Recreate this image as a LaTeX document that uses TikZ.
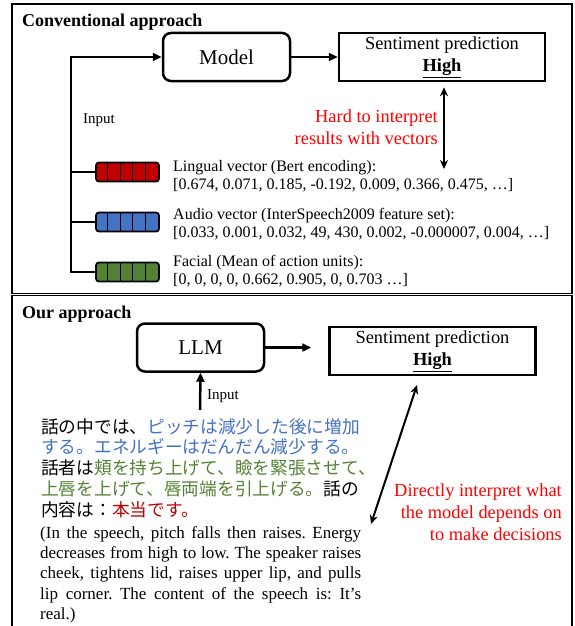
\documentclass[tikz,border=0pt]{standalone}
\usepackage{fontspec}
\setmainfont{Liberation Serif}
\newfontfamily\jpfont{Noto Sans CJK JP}
\usetikzlibrary{arrows.meta,calc}
\definecolor{vred}{RGB}{192,0,0}
\definecolor{vblue}{RGB}{68,114,196}
\definecolor{vgreen}{RGB}{84,130,53}
\frenchspacing

\begin{document}
\begin{tikzpicture}[x=1pt,y=-1pt,
  frame/.style={line width=1.5pt},
  modelbox/.style={draw, line width=2.5pt, rounded corners=8pt, minimum width=127pt, minimum height=48pt, font=\fontsize{21}{25}\selectfont},
  predbox/.style={draw, line width=2.5pt, minimum width=206pt, minimum height=48pt, align=center, inner sep=0pt, font=\fontsize{18.4}{22}\selectfont},
  conn/.style={line width=2.5pt},
  arrow/.style={line width=2.5pt, -{Triangle[length=9pt,width=8pt]}},
  dblarrow/.style={line width=2pt, {Stealth[length=9pt,width=8pt]}-{Stealth[length=9pt,width=8pt]}},
  bar/.style={draw, line width=1.8pt, rounded corners=3pt, minimum width=63pt, minimum height=19pt, inner sep=0pt},
  vectxt/.style={anchor=west, align=left, inner sep=0pt, font=\fontsize{16}{18}\selectfont},
  redtxt/.style={red, anchor=east, align=right, inner sep=0pt, font=\fontsize{18.4}{22}\selectfont},
  title/.style={anchor=west, inner sep=0pt, font=\fontsize{18}{22}\selectfont\bfseries},
  inlabel/.style={anchor=west, inner sep=0pt, font=\fontsize{15}{18}\selectfont}]
\useasboundingbox (0,0) rectangle (574,626);
%
\draw [frame] (12,4) rectangle (572,293.5);
\draw [frame] (12,295.5) rectangle (572,640);
%%%%%%%%%%%%%%% conventional
\node [title] (convtitle) at (22,22) {Conventional approach};
\node [modelbox] (model) at (226.5,57) {Model};
\node [predbox] (sent1) at (442,57) {Sentiment prediction\\\textbf{\underline{High}}};
\draw [arrow, line width=2pt] (model.east) -- (sent1.west);
%
\foreach \nm/\col/\yy in {lingbar/vred/172, audiobar/vblue/222, facebar/vgreen/272} {
  \node [bar, fill=\col] (\nm) at (127.5,\yy) {};
  \foreach \k in {1,...,4}
    \draw [line width=1pt] ($(\nm.north west)+(\k*12.6,0)$) -- ($(\nm.south west)+(\k*12.6,0)$);
}
\coordinate (trunk) at (71,272);
\draw [arrow] (facebar.west) -- (trunk) |- (model.west);
\draw [conn] (trunk |- lingbar.west) -- (lingbar.west);
\draw [conn] (trunk |- audiobar.west) -- (audiobar.west);
\node [inlabel] (input1) at (83,120) {Input};
%
\node [vectxt] (lingtxt) at (173,176) {Lingual vector (Bert encoding):\\{}[0.674, 0.071, 0.185, -0.192, 0.009, 0.366, 0.475, …]};
\node [vectxt] (audiotxt) at (173,224) {Audio vector (InterSpeech2009 feature set):\\{}[0.033, 0.001, 0.032, 49, 430, 0.002, -0.000007, 0.004, …]};
\node [vectxt] (facetxt) at (173,271) {Facial (Mean of action units):\\{}[0, 0, 0, 0, 0.662, 0.905, 0, 0.703 …]};
%
\node [redtxt] (hardtxt) at (438,127) {Hard to interpret\\results with vectors};
\coordinate (hardbot) at (444,169);
\draw [dblarrow, shorten <=5pt] (sent1.south -| hardbot) -- (hardbot);
%%%%%%%%%%%%%%% ours
\node [title] (ourtitle) at (22,314) {Our approach};
\node [modelbox] (llm) at (200.5,347.5) {LLM};
\node [predbox] (sent2) at (432.5,351) {Sentiment prediction\\\textbf{\underline{High}}};
\draw [arrow, line width=3.5pt, shorten >=17pt] (llm.east) -- (llm.east -| sent2.west);
\coordinate (llmin) at (200,410);
\draw [arrow] (llmin) -- (llm.south);
\node [inlabel] (input2) at (207,396) {Input};
%
\node [anchor=north west, align=left, inner sep=0pt, font=\jpfont\fontsize{17.7}{20.8}\selectfont] (jptxt) at (41,418)
  {話の中では、\textcolor{vblue}{ピッチは減少した後に増加}\\
   \textcolor{vblue}{する。エネルギーはだんだん減少する。}\\
   話者は\textcolor{vgreen}{頬を持ち上げて、瞼を緊張させて、}\\
   \textcolor{vgreen}{上唇を上げて、唇両端を引上げる。}話の\\
   内容は：\textcolor{vred}{本当です。}};
\node [anchor=north west, text width=321pt, align=justify, inner sep=0pt, font=\fontsize{17}{20.3}\selectfont] (entxt) at (40,526)
  {(In the speech, pitch falls then raises. Energy\linebreak
   decreases from high to low. The speaker raises\linebreak
   cheek, tightens lid, raises upper lip, and pulls\linebreak
   lip corner. The content of the speech is: It’s\linebreak
   real.)};
%
\node [redtxt] (directtxt) at (562,512) {Directly interpret what\\the model depends on\\to make decisions};
\coordinate (dirtop) at (417,385);
\coordinate (dirbot) at (371,524);
\draw [dblarrow] (dirtop) -- (dirbot);
%%%%%%%%%%%%%%%%%%%%%%%%%%%%%%%
\end{tikzpicture}
\end{document}
